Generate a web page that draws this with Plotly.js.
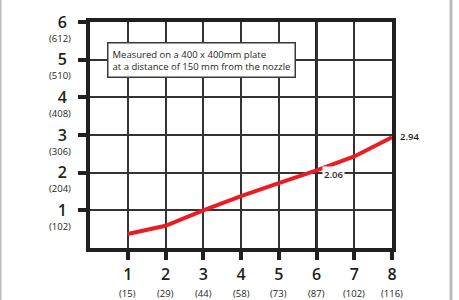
<!DOCTYPE html>
<html>
<head>
<meta charset="utf-8">
<script src="https://cdn.plot.ly/plotly-3.0.1.min.js"></script>
<style>
html,body{margin:0;padding:0;background:#fff;}
#chart{width:459px;height:300px;}
</style>
</head>
<body>
<div id="chart"></div>
<script>
// Data
var xVals = [1, 2, 3, 4, 5, 6, 7, 8];
var yVals = [0.37, 0.59, 1.0, 1.38, 1.72, 2.06, 2.43, 2.94];
var xTickVals = [1, 2, 3, 4, 5, 6, 7, 8];
var xTickText = ['1', '2', '3', '4', '5', '6', '7', '8'];
var xSubText = ['(15)', '(29)', '(44)', '(58)', '(73)', '(87)', '(102)', '(116)'];
var yTickVals = [1, 2, 3, 4, 5, 6];
var yTickText = ['1', '2', '3', '4', '5', '6'];
var ySubText = ['(102)', '(204)', '(306)', '(408)', '(510)', '(612)'];
var labelledPoints = [5, 7]; // indices of points with value labels
var noteLines = ['Measured on a 400 x 400mm plate', 'at a distance of 150 mm from the nozzle'];

var FONT = 'Open Sans, Noto Sans, sans-serif';

var annotations = [];
for (var i = 0; i < xTickVals.length; i++) {
  annotations.push({
    x: xTickVals[i], xref: 'x', y: 0, yref: 'paper',
    text: xSubText[i], showarrow: false, yanchor: 'middle', xanchor: 'center',
    yshift: -45, font: {family: FONT, size: 9.5, color: '#231f20'}
  });
}
for (var j = 0; j < yTickVals.length; j++) {
  annotations.push({
    x: 0, xref: 'paper', y: yTickVals[j], yref: 'y',
    text: ySubText[j], showarrow: false, xanchor: 'right', yanchor: 'middle',
    xshift: -17, yshift: -16, font: {family: FONT, size: 9.5, color: '#231f20'}
  });
}
labelledPoints.forEach(function (k) {
  annotations.push({
    x: xVals[k], y: yVals[k], xref: 'x', yref: 'y',
    text: yVals[k].toFixed(2), showarrow: false, xanchor: 'left', yanchor: 'middle',
    xshift: k === 7 ? 6 : 5, yshift: k === 7 ? 1 : -4, bgcolor: k === 7 ? 'rgba(0,0,0,0)' : '#ffffff',
    borderpad: 1, font: {family: FONT, size: 9.5, color: '#231f20', weight: 600}
  });
});
annotations.push({
  x: 0.45, y: 5.47, xref: 'x', yref: 'y', xanchor: 'left', yanchor: 'top',
  text: noteLines.join('<br>'), showarrow: false, align: 'left',
  bgcolor: '#ffffff', bordercolor: '#3a3a3a', borderwidth: 1.5, borderpad: 4,
  font: {family: FONT, size: 9.5, color: '#231f20'}
});

var traces = [{
  x: xVals, y: yVals, type: 'scatter', mode: 'lines',
  line: {color: '#ed1c24', width: 4}, hoverinfo: 'skip'
}];

var layout = {
  width: 459, height: 300,
  margin: {l: 90, r: 67, t: 22, b: 52},
  paper_bgcolor: '#ffffff', plot_bgcolor: '#ffffff',
  showlegend: false,
  xaxis: {
    range: [0, 8], tickvals: xTickVals, ticktext: xTickText,
    ticks: 'outside', ticklen: 8, tickwidth: 4, tickcolor: '#231f20',
    showline: true, linewidth: 4, linecolor: '#231f20', mirror: true,
    showgrid: true, gridcolor: '#333333', gridwidth: 2, zeroline: false,
    tickfont: {family: FONT, size: 16, color: '#231f20', weight: 600},
    ticklabelstandoff: 1, fixedrange: true
  },
  yaxis: {
    range: [0, 6], tickvals: yTickVals, ticktext: yTickText,
    ticks: 'outside', ticklen: 8, tickwidth: 4, tickcolor: '#231f20',
    showline: true, linewidth: 4, linecolor: '#231f20', mirror: true,
    showgrid: true, gridcolor: '#333333', gridwidth: 2, zeroline: false,
    tickfont: {family: FONT, size: 16, color: '#231f20', weight: 600},
    ticklabelstandoff: 8, fixedrange: true
  },
  shapes: [
    {type: 'line', xref: 'x', yref: 'paper', x0: 6, x1: 6, y0: 0, y1: 1, line: {color: '#231f20', width: 3}, layer: 'below'},
    {type: 'line', xref: 'paper', yref: 'paper', x0: -90/302, x1: -90/302, y0: -52/226, y1: 1 + 22/226, line: {color: '#bdbdbd', width: 3}},
    {type: 'line', xref: 'paper', yref: 'paper', x0: 1 + 59/302, x1: 1 + 59/302, y0: -52/226, y1: 1 + 22/226, line: {color: '#bdbdbd', width: 3}}
  ],
  annotations: annotations
};

Plotly.newPlot('chart', traces, layout, {displayModeBar: false, staticPlot: true});
</script>
</body>
</html>
